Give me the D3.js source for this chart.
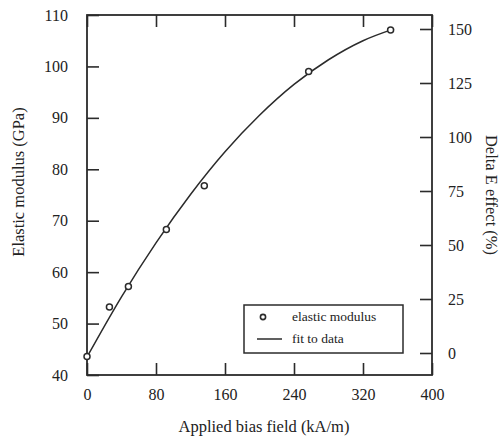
<!DOCTYPE html>
<html>
<head>
<meta charset="utf-8">
<script src="https://cdn.jsdelivr.net/npm/d3@7"></script>
<style>
  body { margin: 0; background: #fff; }
  svg { display: block; }
  text { font-family: "Liberation Serif", "DejaVu Serif", serif; fill: #222; }
</style>
</head>
<body>
<div id="chart"></div>
<script>

// measured points (bias field kA/m, modulus GPa)
const fieldData = [0, 26, 48, 92, 136, 257, 352]
const modulusData = [43.6, 53.2, 57.2, 68.3, 76.8, 99.0, 107.1]

// fit line
const fieldFit = [0, 40, 80, 120, 160, 200, 240, 280, 320, 356]
const modulusFit = [43.5, 55.2, 65.7, 75.1, 83.4, 90.5, 96.5, 101.3, 105.0, 107.3]

const xTicks = [0, 80, 160, 240, 320, 400]
const yTicks = [40, 50, 60, 70, 80, 90, 100, 110]
const deltaTicks = [0, 25, 50, 75, 100, 125, 150]

const legendLabels = ['elastic modulus', 'fit to data']

const width = 501
const height = 439
const margin = { top: 15, right: 69, bottom: 64, left: 87 }

const ink = '#2b2b2b'
const ticklen = 12

const x = d3.scaleLinear().domain([0, 400]).range([margin.left, width - margin.right])
const y = d3.scaleLinear().domain([40, 110]).range([height - margin.bottom, margin.top])
const yDelta = d3.scaleLinear().domain([0, 150]).range([353, 29])

const svg = d3.select('#chart').append('svg')
    .attr('width', width)
    .attr('height', height)

function styleAxis(g) {
  g.select('.domain').remove()
  g.selectAll('.tick line').attr('stroke', ink).attr('stroke-width', 1.6)
  g.selectAll('.tick text')
    .attr('fill', '#222')
    .style('font-size', '16px')
    .style('font-family', '"Liberation Serif", serif')
}

svg.append('g')
    .attr('transform', 'translate(0,' + y.range()[0] + ')')
    .call(d3.axisBottom(x).tickValues(xTicks).tickSize(-ticklen).tickPadding(14))
    .call(styleAxis)

svg.append('g')
    .attr('transform', 'translate(0,' + y.range()[1] + ')')
    .call(d3.axisTop(x).tickValues(xTicks).tickSize(-ticklen).tickFormat(''))
    .call(styleAxis)

svg.append('g')
    .attr('transform', 'translate(' + x.range()[0] + ',0)')
    .call(d3.axisLeft(y).tickValues(yTicks).tickSize(-ticklen).tickPadding(19))
    .call(styleAxis)

svg.append('g')
    .attr('transform', 'translate(' + x.range()[1] + ',0)')
    .call(d3.axisRight(yDelta).tickValues(deltaTicks).tickSize(-ticklen).tickPadding(16))
    .call(styleAxis)

// frame
svg.append('rect')
    .attr('x', x.range()[0])
    .attr('y', y.range()[1])
    .attr('width', x.range()[1] - x.range()[0])
    .attr('height', y.range()[0] - y.range()[1])
    .attr('fill', 'none')
    .attr('stroke', ink)
    .attr('stroke-width', 1.8)

const line = d3.line()
    .x((d, i) => x(fieldFit[i]))
    .y((d) => y(d))
    .curve(d3.curveMonotoneX)

svg.append('path')
    .datum(modulusFit)
    .attr('d', line)
    .attr('fill', 'none')
    .attr('stroke', ink)
    .attr('stroke-width', 1.5)

svg.selectAll('.pt')
    .data(modulusData)
  .enter().append('circle')
    .attr('class', 'pt')
    .attr('cx', (d, i) => x(fieldData[i]))
    .attr('cy', (d) => y(d))
    .attr('r', 3)
    .attr('fill', '#fff')
    .attr('stroke', ink)
    .attr('stroke-width', 1.5)

// legend
const legend = svg.append('g').attr('transform', 'translate(244,305)')

legend.append('rect')
    .attr('width', 159)
    .attr('height', 48)
    .attr('fill', '#fff')
    .attr('stroke', ink)
    .attr('stroke-width', 1.5)

legend.append('circle')
    .attr('cx', 19)
    .attr('cy', 12)
    .attr('r', 2.6)
    .attr('fill', '#fff')
    .attr('stroke', ink)
    .attr('stroke-width', 1.6)

legend.append('line')
    .attr('x1', 13)
    .attr('x2', 38)
    .attr('y1', 34)
    .attr('y2', 34)
    .attr('stroke', ink)
    .attr('stroke-width', 1.5)

legend.selectAll('.lab')
    .data(legendLabels)
  .enter().append('text')
    .attr('class', 'lab')
    .attr('x', 48)
    .attr('y', (d, i) => 16 + i * 22)
    .style('font-size', '13.5px')
    .text((d) => d)

// axis titles
svg.append('text')
    .attr('x', 264)
    .attr('y', 432)
    .attr('text-anchor', 'middle')
    .style('font-size', '16.5px')
    .text('Applied bias field (kA/m)')

svg.append('text')
    .attr('transform', 'translate(24,182) rotate(-90)')
    .attr('text-anchor', 'middle')
    .style('font-size', '16.5px')
    .text('Elastic modulus (GPa)')

svg.append('text')
    .attr('transform', 'translate(486,195) rotate(90)')
    .attr('text-anchor', 'middle')
    .style('font-size', '16.5px')
    .text('Delta E effect (%)')

</script>
</body>
</html>
